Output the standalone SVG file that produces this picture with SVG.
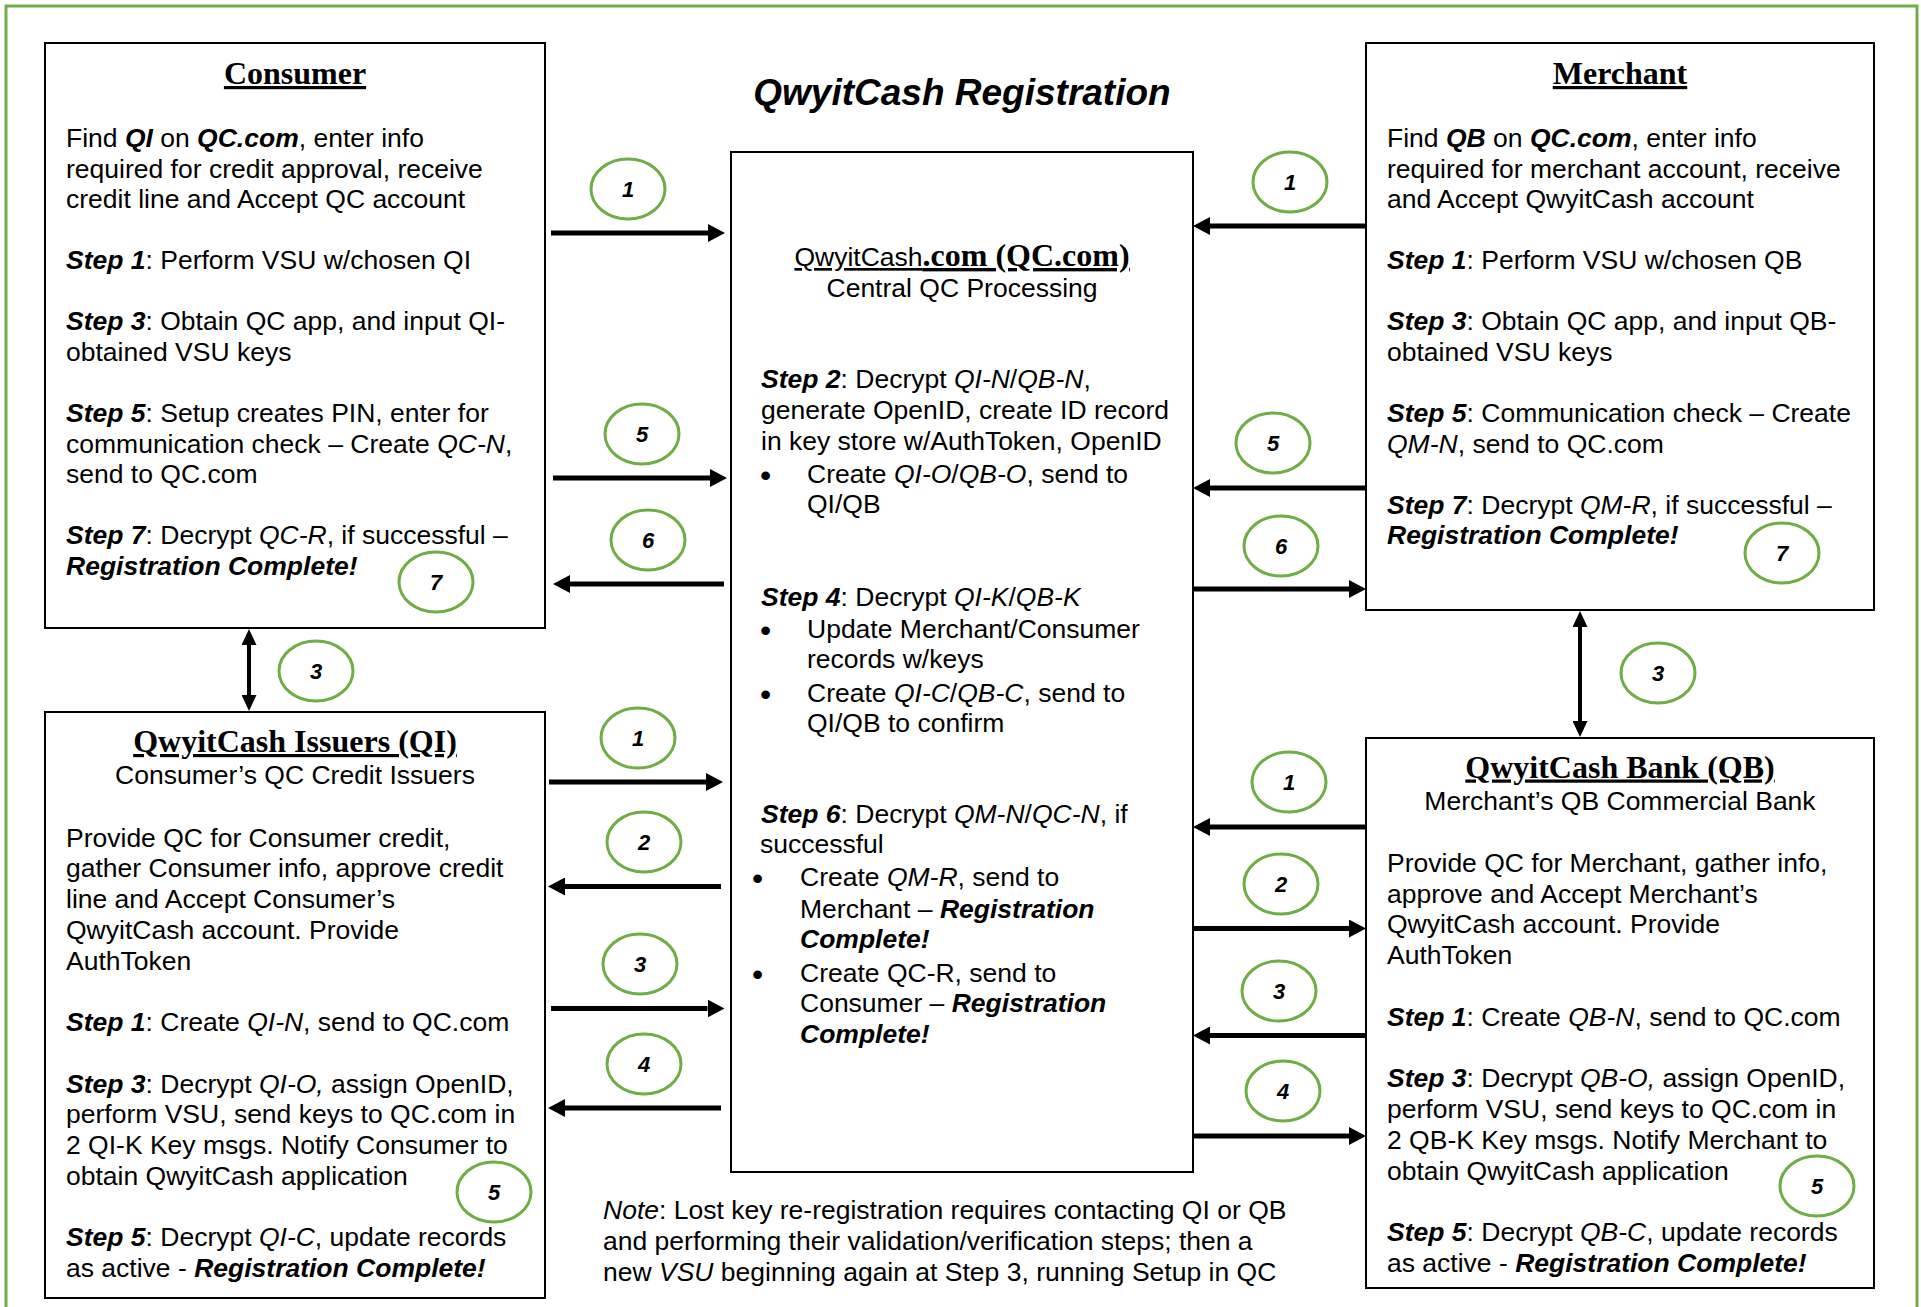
<svg xmlns="http://www.w3.org/2000/svg" width="1921" height="1307" viewBox="0 0 1921 1307">
<style>
.t{font-family:"Liberation Sans",Arial,sans-serif;font-size:26.5px;fill:#000}
.c{text-anchor:middle}
.bi{font-weight:bold;font-style:italic}
.i{font-style:italic}
.h{font-family:"Liberation Serif","Times New Roman",serif;font-weight:bold;font-size:32px;text-decoration:underline}
.bul{font-size:32px}
.box{fill:#fff;stroke:#000;stroke-width:2}
.circ{fill:none;stroke:#70AD47;stroke-width:3}
.num{font-family:"Liberation Sans",Arial,sans-serif;font-weight:bold;font-style:italic;font-size:22px;text-anchor:middle}
.arr{stroke:#000;stroke-width:5;fill:none}
.varr{stroke:#000;stroke-width:4;fill:none}
</style>
<defs>
<marker id="ah" markerWidth="17" markerHeight="18" refX="0" refY="9" orient="auto" markerUnits="userSpaceOnUse"><path d="M0,0 L17,9 L0,18 z" fill="#000"/></marker>
<marker id="av" markerWidth="16" markerHeight="15" refX="0" refY="7.5" orient="auto-start-reverse" markerUnits="userSpaceOnUse"><path d="M0,0 L16,7.5 L0,15 z" fill="#000"/></marker>
</defs>
<rect x="0" y="0" width="1921" height="1307" fill="#fff"/>
<rect x="6" y="6" width="1911" height="1320" fill="none" stroke="#70AD47" stroke-width="3"/>

<text class="t bi c" x="962" y="105" style="font-size:37px">QwyitCash Registration</text>

<g id="consumer">
<rect class="box" x="45" y="43" width="500" height="585"/>
<text class="h c" x="295" y="84">Consumer</text>
<text class="t" x="66" y="147">Find <tspan class="bi">QI</tspan> on <tspan class="bi">QC.com</tspan>, enter info</text>
<text class="t" x="66" y="177.6">required for credit approval, receive</text>
<text class="t" x="66" y="208.1">credit line and Accept QC account</text>
<text class="t" x="66" y="269.3"><tspan class="bi">Step 1</tspan>: Perform VSU w/chosen QI</text>
<text class="t" x="66" y="330.4"><tspan class="bi">Step 3</tspan>: Obtain QC app, and input QI-</text>
<text class="t" x="66" y="361">obtained VSU keys</text>
<text class="t" x="66" y="422.1"><tspan class="bi">Step 5</tspan>: Setup creates PIN, enter for</text>
<text class="t" x="66" y="452.7">communication check – Create <tspan class="i">QC-N</tspan>,</text>
<text class="t" x="66" y="483.3">send to QC.com</text>
<text class="t" x="66" y="544.4"><tspan class="bi">Step 7</tspan>: Decrypt <tspan class="i">QC-R</tspan>, if successful –</text>
<text class="t bi" x="66" y="575">Registration Complete!</text>
</g>

<g id="merchant">
<rect class="box" x="1366" y="43" width="508" height="567"/>
<text class="h c" x="1620" y="84">Merchant</text>
<text class="t" x="1387" y="147">Find <tspan class="bi">QB</tspan> on <tspan class="bi">QC.com</tspan>, enter info</text>
<text class="t" x="1387" y="177.6">required for merchant account, receive</text>
<text class="t" x="1387" y="208.1">and Accept QwyitCash account</text>
<text class="t" x="1387" y="269.3"><tspan class="bi">Step 1</tspan>: Perform VSU w/chosen QB</text>
<text class="t" x="1387" y="330.4"><tspan class="bi">Step 3</tspan>: Obtain QC app, and input QB-</text>
<text class="t" x="1387" y="361">obtained VSU keys</text>
<text class="t" x="1387" y="422.1"><tspan class="bi">Step 5</tspan>: Communication check – Create</text>
<text class="t" x="1387" y="452.7"><tspan class="i">QM-N</tspan>, send to QC.com</text>
<text class="t" x="1387" y="513.8"><tspan class="bi">Step 7</tspan>: Decrypt <tspan class="i">QM-R</tspan>, if successful –</text>
<text class="t bi" x="1387" y="544.4">Registration Complete!</text>
</g>

<g id="qccom">
<rect class="box" x="731" y="152" width="462" height="1020"/>
<text class="c" x="962" y="266" style="text-decoration:underline"><tspan class="t">QwyitCash</tspan><tspan class="h">.com (QC.com)</tspan></text>
<text class="t c" x="962" y="296.7">Central QC Processing</text>
<text class="t" x="761" y="388.3"><tspan class="bi">Step 2</tspan>: Decrypt <tspan class="i">QI-N</tspan>/<tspan class="i">QB-N</tspan>,</text>
<text class="t" x="761" y="419.3">generate OpenID, create ID record</text>
<text class="t" x="761" y="450">in key store w/AuthToken, OpenID</text>
<text class="t bul" x="760" y="486">•</text>
<text class="t" x="807" y="483.3">Create <tspan class="i">QI-O</tspan>/<tspan class="i">QB-O</tspan>, send to</text>
<text class="t" x="807" y="512.7">QI/QB</text>
<text class="t" x="761" y="605.5"><tspan class="bi">Step 4</tspan>: Decrypt <tspan class="i">QI-K</tspan>/<tspan class="i">QB-K</tspan></text>
<text class="t bul" x="760" y="641">•</text>
<text class="t" x="807" y="638.3">Update Merchant/Consumer</text>
<text class="t" x="807" y="668.3">records w/keys</text>
<text class="t bul" x="760" y="704.5">•</text>
<text class="t" x="807" y="701.7">Create <tspan class="i">QI-C</tspan>/<tspan class="i">QB-C</tspan>, send to</text>
<text class="t" x="807" y="732.3">QI/QB to confirm</text>
<text class="t" x="761" y="822.7"><tspan class="bi">Step 6</tspan>: Decrypt <tspan class="i">QM-N</tspan>/<tspan class="i">QC-N</tspan>, if</text>
<text class="t" x="760" y="853.3">successful</text>
<text class="t bul" x="752" y="889">•</text>
<text class="t" x="800" y="886">Create <tspan class="i">QM-R</tspan>, send to</text>
<text class="t" x="800" y="918.3">Merchant – <tspan class="bi">Registration</tspan></text>
<text class="t bi" x="800" y="948.3">Complete!</text>
<text class="t bul" x="752" y="984.5">•</text>
<text class="t" x="800" y="981.7">Create QC-R, send to</text>
<text class="t" x="800" y="1011.7">Consumer – <tspan class="bi">Registration</tspan></text>
<text class="t bi" x="800" y="1042.7">Complete!</text>
</g>

<g id="qi">
<rect class="box" x="45" y="712" width="500" height="586"/>
<text class="h c" x="295" y="752">QwyitCash Issuers (QI)</text>
<text class="t c" x="295" y="784">Consumer’s QC Credit Issuers</text>
<text class="t" x="66" y="846.5">Provide QC for Consumer credit,</text>
<text class="t" x="66" y="877.2">gather Consumer info, approve credit</text>
<text class="t" x="66" y="908">line and Accept Consumer’s</text>
<text class="t" x="66" y="938.7">QwyitCash account. Provide</text>
<text class="t" x="66" y="969.5">AuthToken</text>
<text class="t" x="66" y="1031"><tspan class="bi">Step 1</tspan>: Create <tspan class="i">QI-N</tspan>, send to QC.com</text>
<text class="t" x="66" y="1092.5"><tspan class="bi">Step 3</tspan>: Decrypt <tspan class="i">QI-O,</tspan> assign OpenID,</text>
<text class="t" x="66" y="1123.2">perform VSU, send keys to QC.com in</text>
<text class="t" x="66" y="1154">2 QI-K Key msgs. Notify Consumer to</text>
<text class="t" x="66" y="1184.7">obtain QwyitCash application</text>
<text class="t" x="66" y="1246.2"><tspan class="bi">Step 5</tspan>: Decrypt <tspan class="i">QI-C</tspan>, update records</text>
<text class="t" x="66" y="1277">as active - <tspan class="bi">Registration Complete!</tspan></text>
</g>

<g id="qb">
<rect class="box" x="1366" y="738" width="508" height="550"/>
<text class="h c" x="1620" y="777.5">QwyitCash Bank (QB)</text>
<text class="t c" x="1620" y="810">Merchant’s QB Commercial Bank</text>
<text class="t" x="1387" y="871.8">Provide QC for Merchant, gather info,</text>
<text class="t" x="1387" y="902.6">approve and Accept Merchant’s</text>
<text class="t" x="1387" y="933.4">QwyitCash account. Provide</text>
<text class="t" x="1387" y="964.1">AuthToken</text>
<text class="t" x="1387" y="1025.7"><tspan class="bi">Step 1</tspan>: Create <tspan class="i">QB-N</tspan>, send to QC.com</text>
<text class="t" x="1387" y="1087.3"><tspan class="bi">Step 3</tspan>: Decrypt <tspan class="i">QB-O,</tspan> assign OpenID,</text>
<text class="t" x="1387" y="1118">perform VSU, send keys to QC.com in</text>
<text class="t" x="1387" y="1148.8">2 QB-K Key msgs. Notify Merchant to</text>
<text class="t" x="1387" y="1179.6">obtain QwyitCash application</text>
<text class="t" x="1387" y="1241.2"><tspan class="bi">Step 5</tspan>: Decrypt <tspan class="i">QB-C</tspan>, update records</text>
<text class="t" x="1387" y="1272">as active - <tspan class="bi">Registration Complete!</tspan></text>
</g>

<g id="note">
<text class="t" x="603" y="1219"><tspan class="i">Note</tspan>: Lost key re-registration requires contacting QI or QB</text>
<text class="t" x="603" y="1250">and performing their validation/verification steps; then a</text>
<text class="t" x="603" y="1281">new <tspan class="i">VSU</tspan> beginning again at Step 3, running Setup in QC</text>
</g>

<g id="connectors">
<line class="arr" x1="551" y1="233" x2="708" y2="233" marker-end="url(#ah)"/>
<line class="arr" x1="553" y1="478" x2="710" y2="478" marker-end="url(#ah)"/>
<line class="arr" x1="724" y1="584" x2="570" y2="584" marker-end="url(#ah)"/>
<line class="arr" x1="549" y1="782" x2="706" y2="782" marker-end="url(#ah)"/>
<line class="arr" x1="721" y1="886.5" x2="565" y2="886.5" marker-end="url(#ah)"/>
<line class="arr" x1="551" y1="1008.5" x2="707.5" y2="1008.5" marker-end="url(#ah)"/>
<line class="arr" x1="721" y1="1108" x2="565" y2="1108" marker-end="url(#ah)"/>
<line class="arr" x1="1366" y1="226" x2="1210" y2="226" marker-end="url(#ah)"/>
<line class="arr" x1="1366" y1="488" x2="1210" y2="488" marker-end="url(#ah)"/>
<line class="arr" x1="1193" y1="589" x2="1349" y2="589" marker-end="url(#ah)"/>
<line class="arr" x1="1366" y1="827" x2="1210" y2="827" marker-end="url(#ah)"/>
<line class="arr" x1="1193" y1="928.5" x2="1349" y2="928.5" marker-end="url(#ah)"/>
<line class="arr" x1="1366" y1="1035.5" x2="1210" y2="1035.5" marker-end="url(#ah)"/>
<line class="arr" x1="1193" y1="1136" x2="1349" y2="1136" marker-end="url(#ah)"/>
<line class="varr" x1="249" y1="645" x2="249" y2="695" marker-start="url(#av)" marker-end="url(#av)"/>
<line class="varr" x1="1580" y1="627" x2="1580" y2="721" marker-start="url(#av)" marker-end="url(#av)"/>
</g>

<g id="labels">
<ellipse class="circ" cx="628" cy="189" rx="37" ry="30"/><text class="num" x="628" y="197">1</text>
<ellipse class="circ" cx="642" cy="434" rx="37" ry="30"/><text class="num" x="642" y="442">5</text>
<ellipse class="circ" cx="648" cy="540" rx="37" ry="30"/><text class="num" x="648" y="548">6</text>
<ellipse class="circ" cx="436" cy="582" rx="37" ry="30"/><text class="num" x="436" y="590">7</text>
<ellipse class="circ" cx="316" cy="671" rx="37" ry="30"/><text class="num" x="316" y="679">3</text>
<ellipse class="circ" cx="638" cy="738" rx="37" ry="30"/><text class="num" x="638" y="746">1</text>
<ellipse class="circ" cx="644" cy="842" rx="37" ry="30"/><text class="num" x="644" y="850">2</text>
<ellipse class="circ" cx="640" cy="964" rx="37" ry="30"/><text class="num" x="640" y="972">3</text>
<ellipse class="circ" cx="644" cy="1064" rx="37" ry="30"/><text class="num" x="644" y="1072">4</text>
<ellipse class="circ" cx="494" cy="1192" rx="37" ry="30"/><text class="num" x="494" y="1200">5</text>
<ellipse class="circ" cx="1290" cy="182" rx="37" ry="30"/><text class="num" x="1290" y="190">1</text>
<ellipse class="circ" cx="1273" cy="443" rx="37" ry="30"/><text class="num" x="1273" y="451">5</text>
<ellipse class="circ" cx="1281" cy="546" rx="37" ry="30"/><text class="num" x="1281" y="554">6</text>
<ellipse class="circ" cx="1782" cy="553" rx="37" ry="30"/><text class="num" x="1782" y="561">7</text>
<ellipse class="circ" cx="1658" cy="673" rx="37" ry="30"/><text class="num" x="1658" y="681">3</text>
<ellipse class="circ" cx="1289" cy="782" rx="37" ry="30"/><text class="num" x="1289" y="790">1</text>
<ellipse class="circ" cx="1281" cy="884" rx="37" ry="30"/><text class="num" x="1281" y="892">2</text>
<ellipse class="circ" cx="1279" cy="991" rx="37" ry="30"/><text class="num" x="1279" y="999">3</text>
<ellipse class="circ" cx="1283" cy="1091" rx="37" ry="30"/><text class="num" x="1283" y="1099">4</text>
<ellipse class="circ" cx="1817" cy="1186" rx="37" ry="30"/><text class="num" x="1817" y="1194">5</text>
</g>
</svg>
